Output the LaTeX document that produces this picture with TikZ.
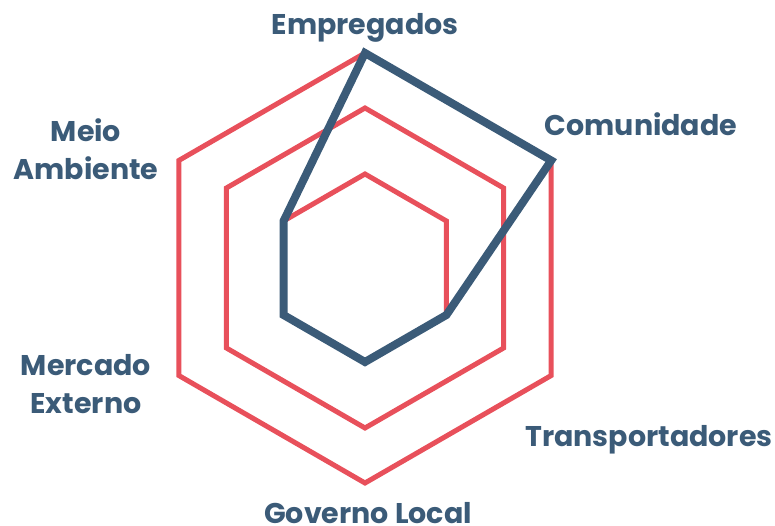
\documentclass[tikz,border=0pt]{standalone}
\usepackage{fontspec}
\setmainfont{Poppins}
\usetikzlibrary{positioning}

\definecolor{gridred}{HTML}{E8505B}
\definecolor{slateblue}{HTML}{3B5B78}

\tikzset{
	grid line/.style={draw=gridred, line width=5pt, line join=miter},
	score line/.style={draw=slateblue, line width=8pt, line join=miter},
	axis label/.style={text=slateblue, font=\fontsize{28.5}{38}\selectfont\bfseries, align=center, inner sep=0pt}
}

\begin{document}
\begin{tikzpicture}[x=1pt, y=1pt]
				\def\rA{94};
				\def\rB{160};
				\def\rC{215};
				\useasboundingbox (-365,-258) rectangle (410,268);

				% grid levels
				\begin{scope}
					\foreach \r in {\rA,\rB,\rC}
						\draw [grid line] (90:\r) -- (30:\r) -- (-30:\r) -- (-90:\r) -- (210:\r) -- (150:\r) -- cycle;
				\end{scope}

				% scores
				\begin{scope}
					\coordinate (emp) at (90:\rC);
					\coordinate (com) at (30:\rC);
					\coordinate (tra) at (-30:\rA);
					\coordinate (gov) at (-90:\rA);
					\coordinate (mer) at (210:\rA);
					\coordinate (mei) at (150:\rA);
					\draw [score line] (emp) -- (com) -- (tra) -- (gov) -- (mer) -- (mei) -- cycle;
				\end{scope}

				% axis labels
				\node [axis label] (lemp) at (0,240) {Empregados};
				\node [axis label] (lcom) at (276,144) {Comunidade};
				\node [axis label] (ltra) at (284,-172) {Transportadores};
				\node [axis label] (lgov) at (3,-245) {Governo Local};
				\node [axis label] (lmer) at (-279,-116) {Mercado\\Externo};
				\node [axis label] (lmei) at (-279,119) {Meio\\Ambiente};
			\end{tikzpicture}
\end{document}
